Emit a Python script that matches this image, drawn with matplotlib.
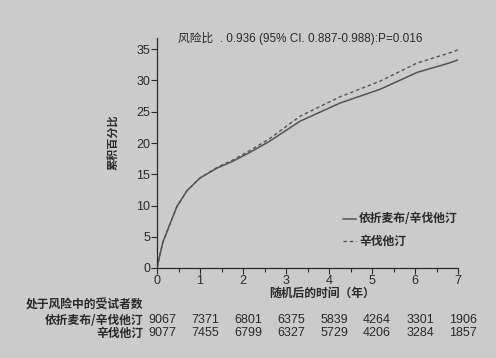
import matplotlib
matplotlib.use("Agg")
import matplotlib.pyplot as plt
from matplotlib.ticker import MultipleLocator

plt.rcParams['font.family'] = ['Liberation Sans', 'Noto Sans CJK SC', 'DejaVu Sans']

# Data
time_ez = [0, 0.05, 0.14, 0.3, 0.46, 0.7, 1.0, 1.4, 1.77, 2.16, 2.6, 3.33, 4.26, 5.19, 6.05, 6.8, 7.0]
pct_ez = [0, 1.6, 4.2, 7.0, 9.8, 12.4, 14.4, 16.0, 17.1, 18.5, 20.2, 23.5, 26.4, 28.6, 31.3, 32.8, 33.3]
time_sim = [0, 0.05, 0.14, 0.3, 0.46, 0.7, 1.0, 1.4, 1.77, 2.16, 2.6, 3.33, 4.26, 5.19, 6.05, 6.8, 7.0]
pct_sim = [0, 1.6, 4.2, 7.0, 9.8, 12.4, 14.4, 16.1, 17.3, 18.8, 20.6, 24.3, 27.4, 29.9, 32.8, 34.4, 34.9]

risk_times = [0, 1, 2, 3, 4, 5, 6, 7]
risk_ez = [9067, 7371, 6801, 6375, 5839, 4264, 3301, 1906]
risk_sim = [9077, 7455, 6799, 6327, 5729, 4206, 3284, 1857]

label_ez = "依折麦布/辛伐他汀"
label_sim = "辛伐他汀"
title = "风险比  . 0.936 (95% CI. 0.887-0.988):P=0.016"
ylabel = "累积百分比"
xlabel = "随机后的时间（年）"
table_title = "处于风险中的受试者数"

bg = "#cbcbcb"
ink = "#2a2a2a"
curve = "#555555"
cjk = ['Noto Sans CJK SC', 'DejaVu Sans']

fig = plt.figure(figsize=(4.96, 3.58), dpi=100, facecolor=bg)
ax = fig.add_axes([157/496, 1 - 268/358, 301/496, (268 - 38)/358], facecolor=bg)

ax.plot(time_ez, pct_ez, color=curve, lw=1.1, solid_capstyle='round')
ax.plot(time_sim, pct_sim, color=curve, lw=1.0, ls=(0, (2.5, 2)))

ax.set_xlim(0, 7)
ax.set_ylim(0, 36.8)
ax.xaxis.set_major_locator(MultipleLocator(1))
ax.xaxis.set_minor_locator(MultipleLocator(0.5))
ax.yaxis.set_major_locator(MultipleLocator(5))
for s in ['top', 'right']:
    ax.spines[s].set_visible(False)
for s in ['left', 'bottom']:
    ax.spines[s].set_color(ink)
    ax.spines[s].set_linewidth(0.9)
ax.tick_params(axis='both', which='both', colors=ink, labelsize=9, length=4, width=0.8)
ax.tick_params(axis='x', which='minor', length=3)
ax.tick_params(axis='x', pad=1)
ax.tick_params(axis='y', pad=1)

ax.text(0.07, 1.0, title, transform=ax.transAxes, fontsize=8.5, color=ink,
        ha='left', va='center')

fig.text(114/496, 1 - 142/358, ylabel, rotation=90, fontsize=8, color=ink,
         ha='center', va='center', fontweight='bold', family=cjk)
fig.text(322/496, 1 - 293/358, xlabel, fontsize=8.5, color=ink,
         ha='center', va='center', fontweight='bold', family=cjk)

# legend
lx0, lx1, ltx = 343/496, 356/496, 359/496
fig.add_artist(plt.Line2D([lx0, lx1], [1 - 219/358] * 2, color=curve, lw=1.1))
fig.add_artist(plt.Line2D([lx0, lx1], [1 - 241/358] * 2, color=curve, lw=1.0, ls=(0, (2.5, 2))))
fig.text(ltx, 1 - 219/358, label_ez, fontsize=8.5, color=ink, ha='left', va='center', fontweight='bold', family=cjk)
fig.text(ltx, 1 - 241/358, label_sim, fontsize=8.5, color=ink, ha='left', va='center', fontweight='bold', family=cjk)

# risk table
fig.text(143/496, 1 - 305/358, table_title, fontsize=8.5, color=ink, ha='right', va='center', fontweight='bold', family=cjk)
fig.text(143/496, 1 - 320/358, label_ez, fontsize=8.5, color=ink, ha='right', va='center', fontweight='bold', family=cjk)
fig.text(143/496, 1 - 333/358, label_sim, fontsize=8.5, color=ink, ha='right', va='center', fontweight='bold', family=cjk)
for t, a, b in zip(risk_times, risk_ez, risk_sim):
    xf = (157 + t * 301 / 7 + 5) / 496
    fig.text(xf, 1 - 320/358, str(a), fontsize=9, color=ink, ha='center', va='center')
    fig.text(xf, 1 - 333/358, str(b), fontsize=9, color=ink, ha='center', va='center')

fig.savefig("out.png", dpi=100, facecolor=bg)
